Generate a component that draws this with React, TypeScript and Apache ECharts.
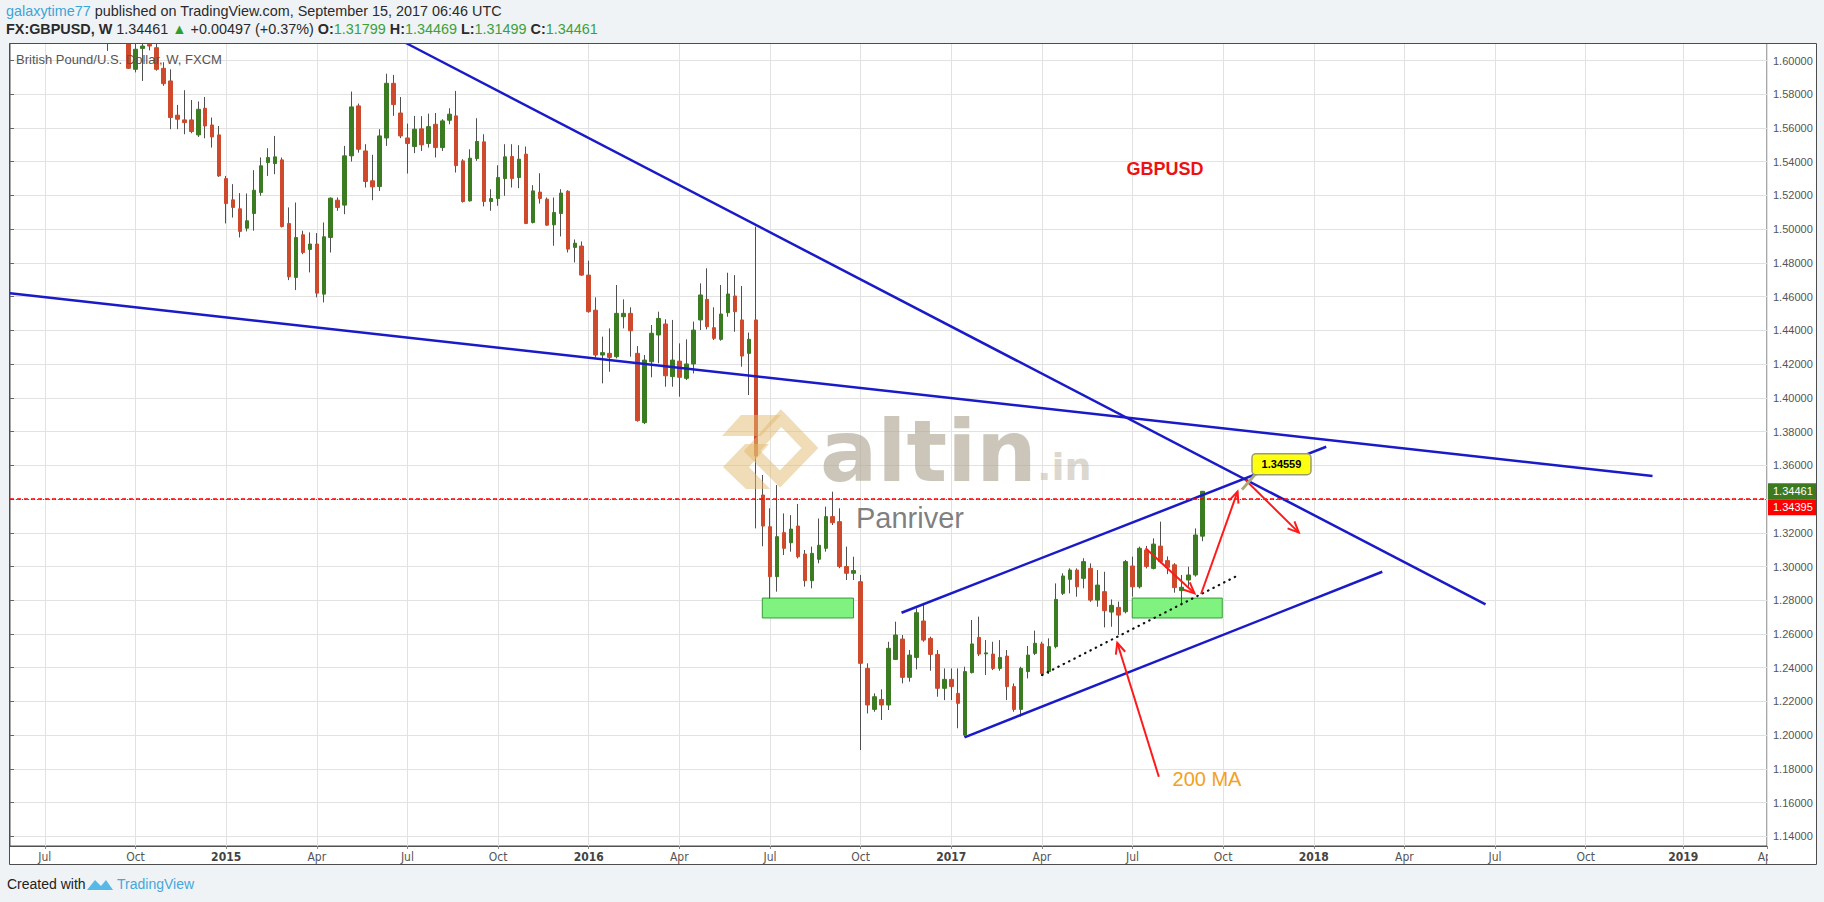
import { useEffect, useRef } from 'react';
import * as echarts from 'echarts';

// ---------- axis definition ----------
const weekStartUTC = [2014, 5, 2]; // first weekly slot: 2014-06-02
const weekCount = 253;             // weekly slots up to 2019-04-01
const firstCandleWeek = 14;        // candles begin with week of 2014-09-08
const monthNames = ['Jan', 'Feb', 'Mar', 'Apr', 'May', 'Jun', 'Jul', 'Aug', 'Sep', 'Oct', 'Nov', 'Dec'];

const priceTicks = [1.14, 1.16, 1.18, 1.2, 1.22, 1.24, 1.26, 1.28, 1.3, 1.32, 1.34, 1.36, 1.38, 1.4, 1.42, 1.44, 1.46, 1.48, 1.5, 1.52, 1.54, 1.56, 1.58, 1.6];
// 1.34000 sits under the price tags in the reference, so its label is not shown
const priceTickLabels = [1.14, 1.16, 1.18, 1.2, 1.22, 1.24, 1.26, 1.28, 1.3, 1.32, 1.36, 1.38, 1.4, 1.42, 1.44, 1.46, 1.48, 1.5, 1.52, 1.54, 1.56, 1.58, 1.6];
const priceMin = 1.1343;
const priceMax = 1.6104;

// ---------- weekly candles [open, high, low, close] ----------
const candleOHLC: number[][] = [
  [1.6185, 1.6300, 1.6057, 1.6230], [1.6230, 1.6520, 1.6160, 1.6310], [1.6310, 1.6350, 1.6200, 1.6260],
  [1.6260, 1.6290, 1.5950, 1.5954], [1.5948, 1.6120, 1.5930, 1.6067], [1.6072, 1.6100, 1.5879, 1.6086],
  [1.6096, 1.6150, 1.6060, 1.6086], [1.6076, 1.6100, 1.5940, 1.5948], [1.5954, 1.5990, 1.5850, 1.5863],
  [1.5879, 1.5948, 1.5593, 1.5662], [1.5676, 1.5737, 1.5593, 1.5652], [1.5648, 1.5824, 1.5563, 1.5632],
  [1.5648, 1.5766, 1.5569, 1.5579], [1.5559, 1.5757, 1.5547, 1.5711], [1.5717, 1.5784, 1.5539, 1.5612],
  [1.5618, 1.5662, 1.5484, 1.5547], [1.5559, 1.5612, 1.5310, 1.5316], [1.5300, 1.5316, 1.5034, 1.5152],
  [1.5174, 1.5267, 1.5069, 1.5129], [1.5121, 1.5214, 1.4951, 1.4987], [1.5006, 1.5212, 1.4987, 1.5050],
  [1.5093, 1.5350, 1.4991, 1.5231], [1.5218, 1.5425, 1.5198, 1.5376], [1.5395, 1.5480, 1.5316, 1.5425],
  [1.5389, 1.5553, 1.5326, 1.5429], [1.5411, 1.5425, 1.5010, 1.5016], [1.5034, 1.5129, 1.4698, 1.4718],
  [1.4714, 1.5158, 1.4639, 1.4951], [1.4967, 1.4991, 1.4852, 1.4862], [1.4880, 1.4981, 1.4744, 1.4912],
  [1.4912, 1.4977, 1.4596, 1.4621], [1.4615, 1.5040, 1.4566, 1.4955], [1.4951, 1.5188, 1.4862, 1.5184],
  [1.5172, 1.5188, 1.5109, 1.5129], [1.5143, 1.5494, 1.5089, 1.5435], [1.5435, 1.5816, 1.5401, 1.5725],
  [1.5731, 1.5745, 1.5454, 1.5474], [1.5464, 1.5504, 1.5247, 1.5283], [1.5287, 1.5441, 1.5172, 1.5251],
  [1.5253, 1.5593, 1.5227, 1.5553], [1.5541, 1.5922, 1.5494, 1.5865], [1.5865, 1.5915, 1.5672, 1.5739],
  [1.5689, 1.5784, 1.5540, 1.5553], [1.5541, 1.5626, 1.5330, 1.5508], [1.5490, 1.5672, 1.5451, 1.5593],
  [1.5595, 1.5670, 1.5464, 1.5500], [1.5508, 1.5685, 1.5484, 1.5608], [1.5622, 1.5689, 1.5425, 1.5484],
  [1.5484, 1.5652, 1.5464, 1.5642], [1.5646, 1.5717, 1.5622, 1.5682], [1.5672, 1.5820, 1.5336, 1.5377],
  [1.5405, 1.5415, 1.5158, 1.5164], [1.5168, 1.5474, 1.5164, 1.5421], [1.5419, 1.5658, 1.5405, 1.5520],
  [1.5518, 1.5563, 1.5135, 1.5164], [1.5164, 1.5237, 1.5109, 1.5182], [1.5182, 1.5379, 1.5139, 1.5306],
  [1.5300, 1.5504, 1.5198, 1.5429], [1.5431, 1.5504, 1.5247, 1.5300], [1.5306, 1.5498, 1.5243, 1.5415],
  [1.5445, 1.5490, 1.5030, 1.5034], [1.5040, 1.5261, 1.5034, 1.5227], [1.5220, 1.5332, 1.5152, 1.5182],
  [1.5178, 1.5188, 1.5020, 1.5024], [1.5026, 1.5188, 1.4902, 1.5099], [1.5093, 1.5237, 1.4957, 1.5214],
  [1.5225, 1.5231, 1.4862, 1.4882], [1.4892, 1.4939, 1.4803, 1.4917], [1.4900, 1.4927, 1.4724, 1.4728],
  [1.4728, 1.4813, 1.4505, 1.4511], [1.4520, 1.4596, 1.4240, 1.4254], [1.4254, 1.4363, 1.4086, 1.4268],
  [1.4264, 1.4412, 1.4155, 1.4240], [1.4244, 1.4669, 1.4234, 1.4501], [1.4481, 1.4584, 1.4412, 1.4501],
  [1.4501, 1.4537, 1.4244, 1.4398], [1.4264, 1.4307, 1.3859, 1.3865], [1.3853, 1.4254, 1.3845, 1.4224],
  [1.4214, 1.4432, 1.4122, 1.4383], [1.4373, 1.4511, 1.4205, 1.4471], [1.4438, 1.4466, 1.4066, 1.4131],
  [1.4126, 1.4462, 1.4066, 1.4224], [1.4218, 1.4323, 1.4007, 1.4122], [1.4116, 1.4347, 1.4106, 1.4201],
  [1.4201, 1.4452, 1.4145, 1.4402], [1.4462, 1.4679, 1.4402, 1.4610], [1.4584, 1.4768, 1.4406, 1.4422],
  [1.4416, 1.4537, 1.4343, 1.4353], [1.4347, 1.4669, 1.4339, 1.4497], [1.4505, 1.4742, 1.4481, 1.4616],
  [1.4604, 1.4728, 1.4392, 1.4511], [1.4462, 1.4663, 1.4185, 1.4248], [1.4264, 1.4387, 1.4017, 1.4347],
  [1.4462, 1.5015, 1.3226, 1.3655], [1.3424, 1.3543, 1.3120, 1.3240], [1.3236, 1.3345, 1.2811, 1.2940],
  [1.2940, 1.3483, 1.2851, 1.3177], [1.3201, 1.3315, 1.3068, 1.3108], [1.3141, 1.3305, 1.3088, 1.3222],
  [1.3240, 1.3371, 1.3048, 1.3058], [1.3074, 1.3098, 1.2881, 1.2916], [1.2916, 1.3118, 1.2871, 1.3078],
  [1.3043, 1.3285, 1.3019, 1.3126], [1.3108, 1.3355, 1.3088, 1.3296], [1.3296, 1.3444, 1.3246, 1.3260],
  [1.3266, 1.3345, 1.2990, 1.3000], [1.3000, 1.3118, 1.2920, 1.2960], [1.2960, 1.3058, 1.2920, 1.2976],
  [1.2910, 1.2950, 1.1912, 1.2426], [1.2396, 1.2426, 1.2129, 1.2179], [1.2153, 1.2248, 1.2139, 1.2228],
  [1.2212, 1.2272, 1.2090, 1.2179], [1.2179, 1.2554, 1.2149, 1.2515], [1.2449, 1.2673, 1.2446, 1.2594],
  [1.2570, 1.2594, 1.2307, 1.2343], [1.2343, 1.2505, 1.2317, 1.2475], [1.2461, 1.2752, 1.2390, 1.2726],
  [1.2677, 1.2772, 1.2554, 1.2564], [1.2574, 1.2584, 1.2382, 1.2479], [1.2479, 1.2505, 1.2228, 1.2278],
  [1.2278, 1.2396, 1.2208, 1.2331], [1.2331, 1.2396, 1.2208, 1.2288], [1.2248, 1.2396, 1.2041, 1.2189],
  [1.2000, 1.2406, 1.1990, 1.2377], [1.2371, 1.2683, 1.2366, 1.2541], [1.2580, 1.2703, 1.2469, 1.2481],
  [1.2482, 1.2564, 1.2357, 1.2488], [1.2481, 1.2554, 1.2386, 1.2396], [1.2396, 1.2564, 1.2382, 1.2461],
  [1.2469, 1.2505, 1.2208, 1.2288], [1.2288, 1.2307, 1.2139, 1.2153], [1.2153, 1.2406, 1.2110, 1.2396],
  [1.2377, 1.2529, 1.2337, 1.2475], [1.2485, 1.2620, 1.2475, 1.2545], [1.2541, 1.2554, 1.2351, 1.2366],
  [1.2377, 1.2574, 1.2363, 1.2525], [1.2525, 1.2900, 1.2515, 1.2805], [1.2841, 1.2960, 1.2831, 1.2944],
  [1.2924, 1.2989, 1.2841, 1.2979], [1.2979, 1.2989, 1.2821, 1.2880], [1.2930, 1.3049, 1.2871, 1.3029],
  [1.2989, 1.3019, 1.2791, 1.2801], [1.2801, 1.2979, 1.2762, 1.2890], [1.2851, 1.2969, 1.2639, 1.2738],
  [1.2730, 1.2805, 1.2643, 1.2770], [1.2758, 1.2792, 1.2594, 1.2712], [1.2732, 1.3039, 1.2722, 1.3029],
  [1.3003, 1.3059, 1.2821, 1.2880], [1.2880, 1.3118, 1.2870, 1.3108], [1.3098, 1.3122, 1.2989, 1.3000],
  [1.2989, 1.3167, 1.2983, 1.3133], [1.3121, 1.3266, 1.3019, 1.3029], [1.3035, 1.3060, 1.2955, 1.2995],
  [1.3010, 1.3020, 1.2845, 1.2875], [1.2857, 1.2950, 1.2782, 1.2877], [1.2920, 1.2999, 1.2880, 1.2950],
  [1.2950, 1.3226, 1.2940, 1.3187], [1.31799, 1.34469, 1.31499, 1.34461],
];

// ---------- drawings (x = week slot, y = price) ----------
const blueTrendLines: number[][][] = [
  [[56.78, 1.6104], [211.63, 1.2776]],
  [[0, 1.4620], [235.58, 1.3537]],
  [[127.87, 1.2726], [188.78, 1.3710]],
  [[136.9, 1.1987], [196.82, 1.2969]],
];
const movingAverage200: number[][] = [[148.05, 1.2357], [175.77, 1.2940]];
const supportZones: number[][][] = [
  [[107.9, 1.2813], [120.98, 1.2695]],
  [[160.96, 1.2813], [173.87, 1.2695]],
];
// [fromWeek, fromPrice, toWeek, toPrice]
const redArrows: number[][] = [
  [164.77, 1.1754, 158.81, 1.2548],
  [162.87, 1.3108, 169.89, 1.2841],
  [170.83, 1.2837, 176.06, 1.3444],
  [177.21, 1.3513, 184.85, 1.3201],
];
const calloutPoints: number[][] = [[176.7, 1.34559]];
const lastPrice = 1.34461;
const bidPrice = 1.34395;
const priceTags: number[] = [1.34461, 1.34395];
const priceTagColors = ['#3d7a1f', '#ff0000'];

const UP = '#3b7b22';
const DOWN = '#cf4a2d';
const WICK = '#505050';
const GRIDC = '#e2e2e2';
const PAGE = '#f0f3f6';
const SANS = "'Liberation Sans', Arial, sans-serif";
const NARROW = "'Liberation Sans Narrow', 'DejaVu Sans Condensed', 'Liberation Sans', sans-serif";

function buildWeeks(): string[] {
  const out: string[] = [];
  const t0 = Date.UTC(weekStartUTC[0], weekStartUTC[1], weekStartUTC[2]);
  for (let i = 0; i < weekCount; i++) {
    out.push(new Date(t0 + i * 7 * 86400000).toISOString().slice(0, 10));
  }
  return out;
}

function isQuarterStart(value: string): boolean {
  const parts = value.split('-').map(Number);
  return parts[2] <= 7 && (parts[1] - 1) % 3 === 0;
}

export default function App() {
  const ref = useRef<HTMLDivElement>(null);

  useEffect(() => {
    if (!ref.current) return;
    const chart = echarts.init(ref.current, null, { renderer: 'svg' });
    const weeks = buildWeeks();
    const quarterFn = (_i: number, v: string) => isQuarterStart(v);

    const wickData = candleOHLC.map((c, j) => [firstCandleWeek + j, c[0], c[3], c[2], c[1]]);
    const bodyData = candleOHLC.map((c, j) => [
      firstCandleWeek + j, c[0], c[3], Math.min(c[0], c[3]), Math.max(c[0], c[3]),
    ]);

    const lineSeries = blueTrendLines.map((pts) => ({
      type: 'line', xAxisIndex: 1, yAxisIndex: 0, data: pts, symbol: 'none', clip: true,
      lineStyle: { color: '#1a1ac8', width: 2.5 }, z: 4, silent: true,
    }));

    const option: any = {
      animation: false,
      backgroundColor: PAGE,
      grid: {
        left: 10, right: 57, top: 43, bottom: 56, show: true,
        backgroundColor: '#ffffff', borderColor: '#505050', borderWidth: 1,
      },
      xAxis: [
        {
          type: 'category', data: weeks, boundaryGap: false,
          axisLine: { show: true, lineStyle: { color: '#505050' } },
          axisTick: { show: true, interval: quarterFn, length: 3, lineStyle: { color: '#888' } },
          axisLabel: {
            interval: quarterFn, color: '#555', fontSize: 12, fontFamily: NARROW, margin: 5,
            formatter: (v: string) => {
              const p = v.split('-').map(Number);
              return p[1] === 1 ? `{y|${p[0]}}` : monthNames[p[1] - 1];
            },
            rich: { y: { fontWeight: 'bold', color: '#444', fontSize: 12, fontFamily: NARROW } },
          },
          splitLine: { show: true, interval: quarterFn, lineStyle: { color: GRIDC } },
        },
        { type: 'value', min: 0, max: weekCount - 1, show: false },
      ],
      yAxis: {
        type: 'value', position: 'right', min: priceMin, max: priceMax,
        axisLine: { show: false },
        axisTick: { show: true, customValues: priceTicks, length: 4, lineStyle: { color: '#666' } },
        axisLabel: {
          customValues: priceTickLabels, formatter: (v: number) => v.toFixed(5),
          color: '#555', fontSize: 11, fontFamily: SANS, margin: 6,
        },
        splitLine: { show: true, lineStyle: { color: GRIDC } },
      },
      series: [
        {
          type: 'candlestick', name: 'wick', xAxisIndex: 0, yAxisIndex: 0, data: wickData,
          encode: { x: 0, y: [1, 2, 3, 4] }, barWidth: 1, clip: true, silent: true,
          itemStyle: { color: WICK, color0: WICK, borderColor: WICK, borderColor0: WICK, borderWidth: 1 },
        },
        {
          type: 'candlestick', name: 'body', xAxisIndex: 0, yAxisIndex: 0, data: bodyData,
          encode: { x: 0, y: [1, 2, 3, 4] }, barWidth: 4, clip: true, silent: true,
          itemStyle: { color: UP, color0: DOWN, borderColor: UP, borderColor0: DOWN, borderWidth: 1 },
          markLine: {
            silent: true, symbol: 'none', animation: false, label: { show: false },
            data: [
              { yAxis: lastPrice, lineStyle: { color: '#3d7a1f', type: [1, 2], width: 1 } },
              { yAxis: bidPrice, lineStyle: { color: '#ff0000', type: [4, 3], width: 1.5 } },
            ],
          },
        },
        {
          type: 'line', xAxisIndex: 1, yAxisIndex: 0, data: [], symbol: 'none', silent: true,
          markArea: {
            silent: true,
            itemStyle: { color: '#80f280', borderColor: '#3a9a3a', borderWidth: 1 },
            data: supportZones.map((z) => [{ coord: z[0] }, { coord: z[1] }]),
          },
        },
        ...lineSeries,
        {
          type: 'line', xAxisIndex: 1, yAxisIndex: 0, data: movingAverage200, symbol: 'none', clip: true,
          lineStyle: { color: '#111', width: 2.2, type: [0.5, 5.5], cap: 'round' }, z: 4, silent: true,
        },
        {
          type: 'custom', xAxisIndex: 1, yAxisIndex: 0, data: redArrows, silent: true, z: 5,
          encode: { x: [0, 2], y: [1, 3] },
          renderItem: (_p: any, api: any) => {
            const a = api.coord([api.value(0), api.value(1)]);
            const b = api.coord([api.value(2), api.value(3)]);
            const ang = Math.atan2(b[1] - a[1], b[0] - a[0]);
            const hl = 12, sp = 0.42;
            const w1 = [b[0] - hl * Math.cos(ang - sp), b[1] - hl * Math.sin(ang - sp)];
            const w2 = [b[0] - hl * Math.cos(ang + sp), b[1] - hl * Math.sin(ang + sp)];
            return {
              type: 'group',
              children: [
                { type: 'line', shape: { x1: a[0], y1: a[1], x2: b[0], y2: b[1] }, style: { stroke: '#ff1a1a', lineWidth: 2 } },
                { type: 'polyline', shape: { points: [w1, b, w2] }, style: { stroke: '#ff1a1a', lineWidth: 2, fill: null } },
              ],
            };
          },
        },
        {
          type: 'custom', xAxisIndex: 1, yAxisIndex: 0, data: calloutPoints, silent: true, z: 6,
          encode: { x: 0, y: 1 },
          renderItem: (_p: any, api: any) => {
            const p = api.coord([api.value(0), api.value(1)]);
            return {
              type: 'group',
              children: [
                { type: 'line', shape: { x1: p[0], y1: p[1], x2: p[0] + 13, y2: p[1] - 15 }, style: { stroke: '#a8a878', lineWidth: 3 } },
                { type: 'rect', shape: { x: p[0] + 10, y: p[1] - 36, width: 59, height: 21, r: 4 }, style: { fill: '#ffff10', stroke: '#9c9c6c', lineWidth: 1.5 } },
                { type: 'text', style: { text: Number(api.value(1)).toFixed(5), x: p[0] + 39.5, y: p[1] - 25.5, align: 'center', verticalAlign: 'middle', font: `bold 11px ${SANS}`, fill: '#000' } },
              ],
            };
          },
        },
        {
          type: 'custom', xAxisIndex: 1, yAxisIndex: 0, silent: true, z: 6, clip: false,
          data: priceTags.map((v) => [weekCount - 1, v]),
          encode: { x: 0, y: 1 },
          renderItem: (params: any, api: any) => {
            const p = api.coord([api.value(0), api.value(1)]);
            let y = p[1];
            if (params.dataIndex > 0) {
              const prev = api.coord([weekCount - 1, priceTags[params.dataIndex - 1]]);
              y = Math.max(y, prev[1] + 16);
            }
            return {
              type: 'group',
              children: [
                { type: 'rect', shape: { x: p[0] + 1, y: y - 8, width: 49, height: 16 }, style: { fill: priceTagColors[params.dataIndex] } },
                { type: 'text', style: { text: Number(api.value(1)).toFixed(5), x: p[0] + 6, y, verticalAlign: 'middle', font: `11px ${SANS}`, fill: '#fff' } },
              ],
            };
          },
        },
      ],
      graphic: {
        elements: [
          // chart box pieces outside the plot (price scale & time scale)
          { type: 'rect', z: -10, silent: true, shape: { x: 1767, y: 43, width: 50, height: 822 }, style: { fill: '#fff' } },
          { type: 'rect', z: -10, silent: true, shape: { x: 9.5, y: 846, width: 1758, height: 19 }, style: { fill: '#fff' } },
          { type: 'rect', z: 50, silent: true, shape: { x: 1768, y: 847, width: 48, height: 17 }, style: { fill: '#fff' } },
          // page band above the chart box (hides candles that run above the price scale)
          { type: 'rect', z: 55, silent: true, shape: { x: 0, y: 0, width: 1824, height: 43 }, style: { fill: PAGE } },
          { type: 'rect', z: 60, silent: true, shape: { x: 9.5, y: 43.5, width: 1807, height: 821 }, style: { fill: null, stroke: '#4d4d4d', lineWidth: 1 } },
          // header
          {
            type: 'text', z: 60, x: 6, y: 11,
            style: {
              text: '{u|galaxytime77} published on TradingView.com, September 15, 2017 06:46 UTC',
              font: `14.4px ${SANS}`, fill: '#2a2a2a', verticalAlign: 'middle',
              rich: { u: { fill: '#3ea4d6', font: `14.4px ${SANS}` } },
            },
          },
          {
            type: 'text', z: 60, x: 6, y: 29,
            style: {
              text: '{b|FX:GBPUSD, W} 1.34461 {g|▲} +0.00497 (+0.37%) {b|O:}{v|1.31799} {b|H:}{v|1.34469} {b|L:}{v|1.31499} {b|C:}{v|1.34461}',
              font: `14.4px ${SANS}`, fill: '#2a2a2a', verticalAlign: 'middle',
              rich: {
                b: { font: `bold 14.4px ${SANS}`, fill: '#2a2a2a' },
                g: { font: `14.4px ${SANS}`, fill: '#2e9e2e' },
                v: { font: `14.4px ${SANS}`, fill: '#3aa13a' },
              },
            },
          },
          { type: 'text', z: 60, x: 16, y: 59, style: { text: 'British Pound/U.S. Dollar, W, FXCM', font: `13px ${SANS}`, fill: '#555', verticalAlign: 'middle' } },
          // watermark logo
          { type: 'polygon', z: 40, silent: true, shape: { points: [[741, 415], [781, 415], [761, 436], [722, 436]] }, style: { fill: 'rgba(226,186,110,0.5)' } },
          { type: 'polygon', z: 40, silent: true, shape: { points: [[745, 444], [769, 444], [749, 467], [770, 489], [746, 489], [723, 467]] }, style: { fill: 'rgba(226,186,110,0.5)' } },
          { type: 'polygon', z: 40, silent: true, shape: { points: [[781, 418], [810, 448], [780, 479], [752, 451]] }, style: { fill: null, stroke: 'rgba(226,186,110,0.5)', lineWidth: 12 } },
          { type: 'text', z: 40, silent: true, x: 820, y: 451, style: { text: 'altin', font: `bold 85px 'DejaVu Sans', sans-serif`, fill: 'rgba(175,167,147,0.65)', verticalAlign: 'middle' } },
          { type: 'text', z: 40, silent: true, x: 1037, y: 467, style: { text: '.in', font: `bold 38px 'DejaVu Sans', sans-serif`, fill: 'rgba(185,178,160,0.5)', verticalAlign: 'middle' } },
          { type: 'text', z: 40, silent: true, x: 856, y: 518, style: { text: 'Panriver', font: `29px ${SANS}`, fill: 'rgba(120,120,120,0.95)', verticalAlign: 'middle' } },
          // annotations
          { type: 'text', z: 60, x: 1165, y: 169, style: { text: 'GBPUSD', font: `bold 18px ${SANS}`, fill: '#ee1111', align: 'center', verticalAlign: 'middle' } },
          { type: 'text', z: 60, x: 1207, y: 779, style: { text: '200 MA', font: `20px ${SANS}`, fill: '#f2a124', align: 'center', verticalAlign: 'middle' } },
          // footer
          { type: 'text', z: 60, x: 7, y: 884, style: { text: 'Created with', font: `14px ${SANS}`, fill: '#222', verticalAlign: 'middle' } },
          { type: 'polygon', z: 60, silent: true, shape: { points: [[87, 890], [95, 880], [101, 886], [106, 880], [113, 890]] }, style: { fill: '#58b8e6' } },
          { type: 'text', z: 60, x: 117, y: 884, style: { text: 'TradingView', font: `14px ${SANS}`, fill: '#45a7da', verticalAlign: 'middle' } },
        ],
      },
    };

    chart.setOption(option);
    return () => chart.dispose();
  }, []);

  return <div ref={ref} style={{ position: 'fixed', left: 0, top: 0, width: 1824, height: 902 }} />;
}
